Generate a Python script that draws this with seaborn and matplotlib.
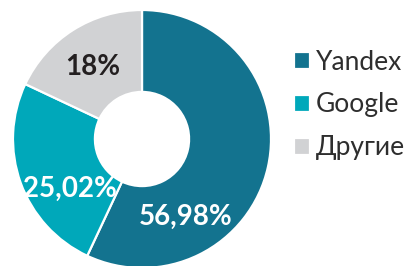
import matplotlib
matplotlib.use("Agg")
import matplotlib.pyplot as plt
import seaborn as sns

# data
labels = ["Yandex", "Google", "Другие"]
shares = [56.98, 25.02, 18.0]
value_text = ["56,98%", "25,02%", "18%"]
colors = ["#13738f", "#00a8ba", "#d1d2d4"]
text_colors = ["white", "white", "#231f20"]

# where the percentage labels sit (axes data units, pie radius = 1)
label_pos = [(0.34, -0.60), (-0.56, -0.39), (-0.38, 0.56)]

sns.set_theme(style="white")
plt.rcParams["font.family"] = ["Lato", "DejaVu Sans"]

fig = plt.figure(figsize=(4.08, 2.66), dpi=100)
# pie centre ~ (142, 139) px, radius ~129 px
r_px = 129
ax = fig.add_axes([(142 - r_px) / 408, (266 - 139 - r_px) / 266,
                   2 * r_px / 408, 2 * r_px / 266])

wedges, _ = ax.pie(shares, colors=sns.color_palette(colors), startangle=90,
                   counterclock=False, radius=1,
                   wedgeprops=dict(width=0.635, edgecolor="white", linewidth=1.6))
ax.set_xlim(-1, 1)
ax.set_ylim(-1, 1)
ax.set_aspect("equal")
ax.axis("off")

for (x, y), t, c in zip(label_pos, value_text, text_colors):
    ax.text(x, y, t, ha="center", va="center", color=c,
            fontsize=20, fontweight="bold")

leg = fig.legend(wedges, labels, loc="upper left",
                 bbox_to_anchor=(294 / 408, 1 - 49.5 / 266),
                 frameon=False, handlelength=0.62, handleheight=0.62,
                 handletextpad=0.22, labelspacing=0.68, borderpad=0, borderaxespad=0,
                 prop=dict(size=19, weight="normal"))
for t in leg.get_texts():
    t.set_color("#2e2e2e")

fig.savefig("out.png", dpi=100)
